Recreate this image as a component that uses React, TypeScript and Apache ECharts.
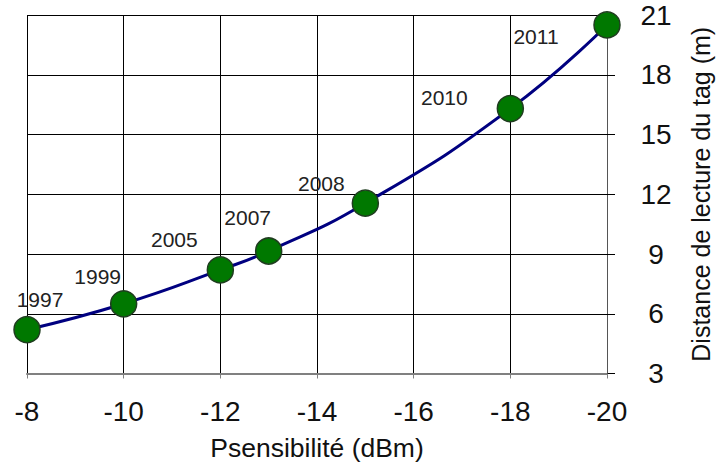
import React, { useEffect, useRef } from "react";
import * as echarts from "echarts";

const sensitivity = [-8, -10, -12, -13, -15, -18, -20];
const distance = [5.2, 6.5, 8.2, 9.15, 11.55, 16.3, 20.5];
const years = ["1997", "1999", "2005", "2007", "2008", "2010", "2011"];
const xTicks = { min: -20, max: -8, interval: 2 };
const yTicks = { min: 3, max: 21, interval: 3 };

const labelOffsets = [
  [13, -30],
  [-26, -27],
  [-46, -30],
  [-21, -34],
  [-44, -20],
  [-66, -11],
  [-71, 12],
];

const FONT = "'Liberation Sans', Arial, sans-serif";

export default function App() {
  const ref = useRef<HTMLDivElement>(null);
  useEffect(() => {
    if (!ref.current) return;
    const chart = echarts.init(ref.current, undefined, { renderer: "svg" });
    const data = sensitivity.map((x, i) => ({
      value: [x, distance[i]],
      label: {
        show: true,
        formatter: years[i],
        position: "inside",
        offset: labelOffsets[i],
      },
    }));
    chart.setOption({
      animation: false,
      backgroundColor: "#fff",
      grid: {
        left: 27,
        right: 109,
        top: 15,
        bottom: 89.5,
        containLabel: false,
        outerBoundsMode: "none",
      },
      xAxis: {
        type: "value",
        inverse: true,
        min: xTicks.min,
        max: xTicks.max,
        interval: xTicks.interval,
        name: "Psensibilité (dBm)",
        nameLocation: "middle",
        nameGap: 61,
        nameTextStyle: { fontFamily: FONT, fontSize: 26.5, color: "#111" },
        axisLine: { show: true, lineStyle: { color: "#808080", width: 2 } },
        axisTick: { show: true, length: 5, lineStyle: { color: "#808080", width: 1 } },
        axisLabel: { fontFamily: FONT, fontSize: 28, color: "#111", margin: 24 },
        splitLine: { show: true, lineStyle: { color: "#000", width: 1 } },
      },
      yAxis: {
        type: "value",
        position: "right",
        min: yTicks.min,
        max: yTicks.max,
        interval: yTicks.interval,
        name: "Distance de lecture du tag (m)",
        nameLocation: "middle",
        nameGap: 81,
        nameTextStyle: { fontFamily: FONT, fontSize: 25, color: "#111" },
        axisLine: { show: true, lineStyle: { color: "#555", width: 1 } },
        axisTick: { show: true, inside: false, length: 8, lineStyle: { color: "#000", width: 1 } },
        axisLabel: { fontFamily: FONT, fontSize: 28, color: "#111", margin: 49, align: "center" },
        splitLine: { show: true, lineStyle: { color: "#000", width: 1 } },
      },
      series: [
        {
          type: "line",
          data,
          smooth: true,
          symbol: "circle",
          symbolSize: 26,
          lineStyle: { color: "#000080", width: 3 },
          itemStyle: { color: "#007800", borderColor: "#1f3d1f", borderWidth: 1.5 },
          label: { fontFamily: FONT, fontSize: 21, color: "#222" },
          z: 5,
        },
      ],
    });
    return () => chart.dispose();
  }, []);
  return (
    <div
      ref={ref}
      style={{ position: "absolute", left: 0, top: 0, width: 716, height: 463 }}
    />
  );
}
